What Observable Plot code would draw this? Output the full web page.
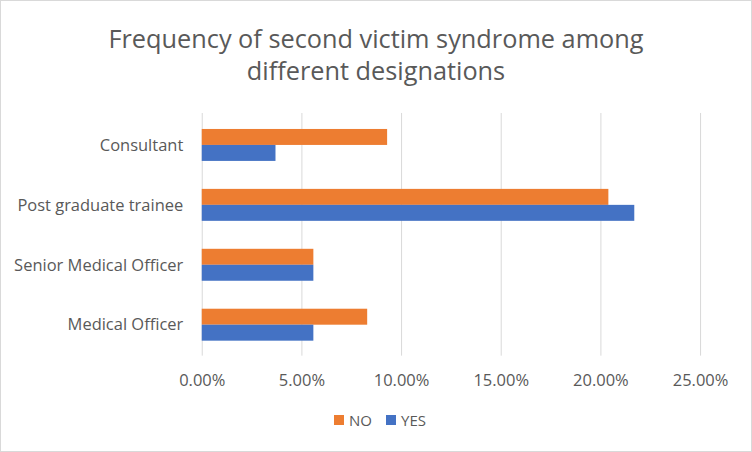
<!DOCTYPE html>
<html><head><meta charset="utf-8">
<script src="https://cdn.jsdelivr.net/npm/d3@7"></script>
<script src="https://cdn.jsdelivr.net/npm/@observablehq/plot@0.6"></script>
<style>
body{margin:0;background:#fff;}
#chart{position:relative;width:752px;height:452px;box-sizing:border-box;border:1px solid #d9d9d9;background:#fff;font-family:"Open Sans",sans-serif;color:#595959;overflow:hidden}
#title{position:absolute;left:0;top:21px;width:750px;text-align:center;font-size:25.3px;line-height:32px}
#plot{position:absolute;left:-1px;top:99px}
#legend{position:absolute;left:0;top:408px;width:750px;text-align:center;font-size:15px;padding-left:8px;box-sizing:border-box}
.item{display:inline-flex;align-items:center;margin:0 7px}
.sw{display:inline-block;width:10px;height:10px;margin-right:5px}
</style></head>
<body>
<div id="chart">
  <div id="title">Frequency of second victim syndrome among<br>different designations</div>
  <div id="plot"></div>
  <div id="legend"></div>
</div>
<script>
const categories = ["Consultant", "Post graduate trainee", "Senior Medical Officer", "Medical Officer"];
const noValues = [9.3, 20.4, 5.6, 8.3];
const yesValues = [3.7, 21.7, 5.6, 5.6];
const xTicks = [0, 5, 10, 15, 20, 25];
const seriesNames = ["NO", "YES"];
const seriesColors = ["#ED7D31", "#4472C4"];

const noData = categories.map((c, i) => ({category: c, value: noValues[i]}));
const yesData = categories.map((c, i) => ({category: c, value: yesValues[i]}));

const chart = Plot.plot({
  width: 752,
  height: 300,
  marginLeft: 202,
  marginRight: 51,
  marginTop: 13,
  marginBottom: 44,
  style: {fontFamily: "Open Sans, sans-serif", fontSize: "16.5px", color: "#595959", background: "transparent"},
  x: {domain: [0, 25], ticks: xTicks, tickFormat: d => d.toFixed(2) + "%", tickSize: 0, tickPadding: 18, label: null},
  y: {domain: categories, paddingInner: 0.47, paddingOuter: 0.25, tickSize: 0, tickPadding: 19, label: null},
  marks: [
    Plot.ruleX(xTicks, {stroke: "#d9d9d9", strokeWidth: 1}),
    Plot.barX(noData, {x: "value", y: "category", fill: seriesColors[0], insetBottom: 16}),
    Plot.barX(yesData, {x: "value", y: "category", fill: seriesColors[1], insetTop: 16})
  ]
});
document.getElementById("plot").appendChild(chart);

const legend = document.getElementById("legend");
seriesNames.forEach((name, i) => {
  const item = document.createElement("span");
  item.className = "item";
  const sw = document.createElement("span");
  sw.className = "sw";
  sw.style.background = seriesColors[i];
  item.appendChild(sw);
  item.appendChild(document.createTextNode(name));
  legend.appendChild(item);
});
</script>
</body></html>
